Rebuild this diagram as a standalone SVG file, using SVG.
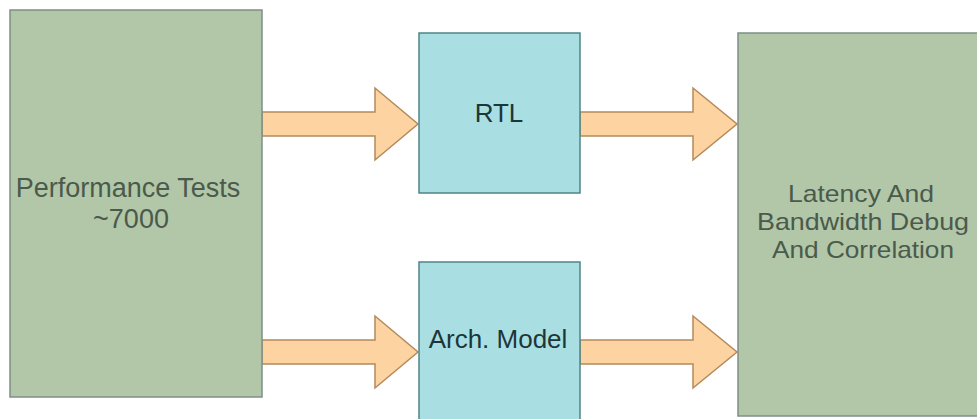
<svg xmlns="http://www.w3.org/2000/svg" width="977" height="419" viewBox="0 0 977 419">
  <style>
    .green { fill: #b1c7a7; stroke: #7f8f86; stroke-width: 1.5; }
    .cyan { fill: #a9dfe3; stroke: #4f8587; stroke-width: 1.5; }
    .arrow { fill: #fdd3a1; stroke: #b48a5b; stroke-width: 1.5; stroke-linejoin: miter; }
    .lbl { font-family: "Liberation Sans", Arial, sans-serif; text-anchor: middle; }
    .soft { fill: #4b5a4c; font-size: 27px; }
    .soft-sm { fill: #4b5a4c; font-size: 24px; }
    .dark { fill: #1d3638; font-size: 26px; }
  </style>
  <rect width="977" height="419" fill="#ffffff"/>

  <!-- block arrows between stages -->
  <g id="connectors">
    <polygon class="arrow" points="262,112 375,112 375,88 418,124 375,160 375,136 262,136"/>
    <polygon class="arrow" points="580,112 693,112 693,88 737,124 693,160 693,136 580,136"/>
    <polygon class="arrow" points="262,340 375,340 375,316 418,352 375,388 375,364 262,364"/>
    <polygon class="arrow" points="580,340 693,340 693,316 737,352 693,388 693,364 580,364"/>
  </g>

  <g id="perf-tests">
    <rect class="green" x="10" y="10" width="252" height="387"/>
    <text class="lbl soft" x="128" y="197">Performance Tests</text>
    <text class="lbl soft" x="131" y="228">~7000</text>
  </g>

  <g id="rtl">
    <rect class="cyan" x="419" y="33" width="161" height="160"/>
    <text class="lbl dark" x="499" y="122">RTL</text>
  </g>

  <g id="arch-model">
    <rect class="cyan" x="419" y="262" width="161" height="170"/>
    <text class="lbl dark" x="498" y="348">Arch. Model</text>
  </g>

  <g id="debug">
    <rect class="green" x="738" y="33" width="260" height="383"/>
    <text class="lbl soft-sm" x="861" y="202" textLength="146" lengthAdjust="spacingAndGlyphs">Latency And</text>
    <text class="lbl soft-sm" x="863" y="230" textLength="212" lengthAdjust="spacingAndGlyphs">Bandwidth Debug</text>
    <text class="lbl soft-sm" x="863" y="258" textLength="182" lengthAdjust="spacingAndGlyphs">And Correlation</text>
  </g>
</svg>
